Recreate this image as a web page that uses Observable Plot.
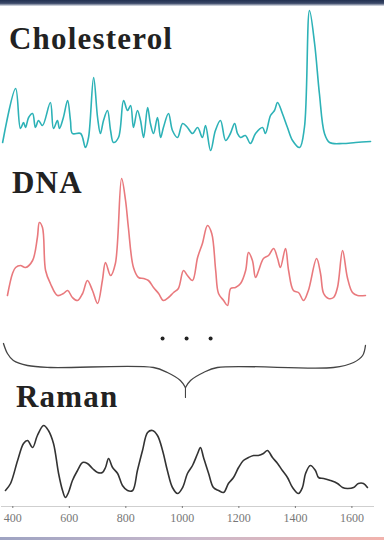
<!DOCTYPE html>
<html><head><meta charset="utf-8">
<script src="https://cdn.jsdelivr.net/npm/d3@7"></script>
<script src="https://cdn.jsdelivr.net/npm/@observablehq/plot@0.6"></script>
<style>
body{margin:0;background:#fff;}
#wrap{position:relative;width:384px;height:540px;overflow:hidden;background:#fff;}
.panel{position:absolute;left:0;}
.title{position:absolute;font-family:"Liberation Serif","Times New Roman",serif;font-weight:bold;font-size:31px;line-height:1;letter-spacing:1.2px;color:#222;z-index:2;white-space:nowrap;}
.topbar{position:absolute;left:0;top:0;width:384px;height:6px;background:linear-gradient(#223050,#3a4868 55%,#e6e9ef);z-index:3;}
.botbar{position:absolute;left:0;bottom:0;width:384px;height:3px;background:linear-gradient(90deg,#9ea3c2,#c9b9cc 50%,#f2b3ad);z-index:3;}
</style>
</head><body>
<div id="wrap">
  <div class="topbar"></div>
  <div class="panel" id="p1" style="top:0"></div>
  <div class="panel" id="p2" style="top:160px"></div>
  <div class="panel" id="p3" style="top:310px"></div>
  <div class="panel" id="p4" style="top:410px"></div>
  <div class="title" style="left:9px;top:23px">Cholesterol</div>
  <div class="title" style="left:12px;top:167px">DNA</div>
  <div class="title" style="left:16px;top:381px">Raman</div>
  <div class="botbar"></div>
</div>
<script>
// ---- data (wavenumber in cm^-1, relative intensity) ----
const cholWavenumber = [364,410,427,438,445,456,470,480,491,505,533,544,558,565,579,594,604,611,640,657,668,686,700,710,721,735,746,756,774,792,806,817,827,841,852,863,877,887,898,912,923,933,951,965,983,1001,1018,1036,1054,1071,1082,1100,1117,1135,1153,1170,1185,1195,1206,1223,1241,1259,1284,1294,1312,1326,1337,1354,1372,1390,1415,1432,1450,1468,1485,1503,1521,1567,1613,1666];
const cholIntensity  = [10,64,24,30,25,35,39,25,32,27,50,24,32,24,35,52,32,19,19,5,15,75,35,19,32,42,22,10,15,52,42,47,25,42,32,15,45,29,19,35,15,25,39,22,15,29,25,19,25,15,27,2,22,32,12,19,29,19,15,17,9,19,25,19,37,42,50,39,25,12,5,25,142,109,59,19,10,9,10,11];

const dnaWavenumber = [381,399,410,427,445,470,487,494,505,516,533,558,579,594,611,629,647,664,682,700,717,728,746,763,785,799,809,827,845,863,880,898,916,933,951,969,986,1004,1018,1036,1054,1071,1089,1104,1118,1128,1146,1160,1171,1188,1206,1224,1234,1248,1259,1270,1287,1305,1323,1337,1347,1365,1376,1393,1411,1429,1446,1475,1489,1500,1517,1535,1549,1567,1584,1602,1620,1648];
const dnaIntensity  = [11,33,39,41,39,46,69,84,79,36,23,11,13,16,9,6,13,26,16,3,26,44,31,43,128,106,79,39,29,28,26,19,13,6,9,14,18,36,31,26,49,63,81,73,36,13,6,1,18,19,23,36,54,46,29,36,48,51,58,48,39,58,36,16,14,6,16,48,33,13,8,9,19,56,29,14,11,11];

const ramanWavenumber = [374,392,417,438,452,470,487,509,526,544,562,576,586,597,611,629,647,664,682,700,717,728,739,753,771,788,806,824,841,859,877,894,912,930,947,965,983,1001,1018,1036,1054,1064,1075,1093,1110,1128,1146,1163,1181,1199,1216,1234,1252,1269,1287,1301,1319,1337,1354,1372,1390,1411,1425,1436,1453,1471,1482,1500,1524,1549,1567,1584,1606,1623,1641,1655];
const ramanIntensity  = [10,17,40,57,60,53,65,75,70,57,27,10,3,8,20,30,38,37,32,28,28,33,42,33,27,15,10,10,30,50,68,70,65,50,30,13,7,13,27,35,47,53,43,27,13,10,8,17,23,33,40,43,45,45,47,50,43,37,30,23,13,7,13,27,35,30,23,22,20,17,13,12,13,17,17,13];

const tickValues = [400,600,800,1000,1200,1400,1600];

// bracket ("...") annotation shape: wavenumber and depth below its top
const braceLeftX  = [367,381,402,452,533,898,947,993,1011];
const braceLeftY  = [33,43,50,55,57,57,62,70,77];
const braceRightX = [1011,1029,1075,1124,1535,1606,1638,1648];
const braceRightY = [77,70,62,57,57,52,45,35];
const braceTailX  = [1011,1011];
const braceTailY  = [77,87];
const ellipsisX   = [930,1015,1100];
const ellipsisY   = [28,28,28];

// ---- layout ----
const W = 384;
const xScale = {domain:[360,1680], axis:null, label:null};
const common = {width:W, marginLeft:1, marginRight:10, marginTop:0,
  style:{background:"transparent", overflow:"visible", fontFamily:"'Liberation Serif', serif"}};
const rows = (xs, ys) => xs.map((x,i)=>({x, y:ys[i]}));

function spectrum(xs, ys, color, height, dom, bottom) {
  return Plot.plot({
    ...common, height, marginBottom: height - bottom,
    x: xScale,
    y: {domain:dom, range:[bottom, 0], axis:null},
    marks:[
      Plot.line(rows(xs, ys), {x:"x", y:"y", stroke:color, strokeWidth:1.6, curve:"catmull-rom", strokeLinejoin:"round"})
    ]
  });
}

document.getElementById("p1").append(
  spectrum(cholWavenumber, cholIntensity, "#2db2b7", 160, [0,152], 152));
document.getElementById("p2").append(
  spectrum(dnaWavenumber, dnaIntensity, "#e9797d", 150, [0,146], 146));

document.getElementById("p3").append(Plot.plot({
  ...common, height:100, marginBottom:0,
  x: xScale,
  y: {domain:[0,100], range:[0,100], axis:null},
  marks:[
    Plot.line(rows(braceLeftX, braceLeftY), {x:"x", y:"y", stroke:"#444", strokeWidth:1.3, curve:"catmull-rom"}),
    Plot.line(rows(braceRightX, braceRightY), {x:"x", y:"y", stroke:"#444", strokeWidth:1.3, curve:"catmull-rom"}),
    Plot.line(rows(braceTailX, braceTailY), {x:"x", y:"y", stroke:"#444", strokeWidth:1.1}),
    Plot.dot(rows(ellipsisX, ellipsisY), {x:"x", y:"y", r:2, fill:"#222", stroke:"none"})
  ]
}));

document.getElementById("p4").append(Plot.plot({
  ...common, height:130, marginBottom:34,
  x: xScale,
  y: {domain:[-6,90], axis:null},
  marks:[
    Plot.ruleY([-6], {stroke:"#cfcfcf", strokeWidth:1}),
    Plot.axisX({ticks:tickValues, tickFormat:d=>String(d), tickSize:2, tickPadding:5, label:null,
      fontSize:12, color:"#777"}),
    Plot.line(rows(ramanWavenumber, ramanIntensity), {x:"x", y:"y", stroke:"#333", strokeWidth:1.6, curve:"catmull-rom", strokeLinejoin:"round"})
  ]
}));
</script>
</body></html>
